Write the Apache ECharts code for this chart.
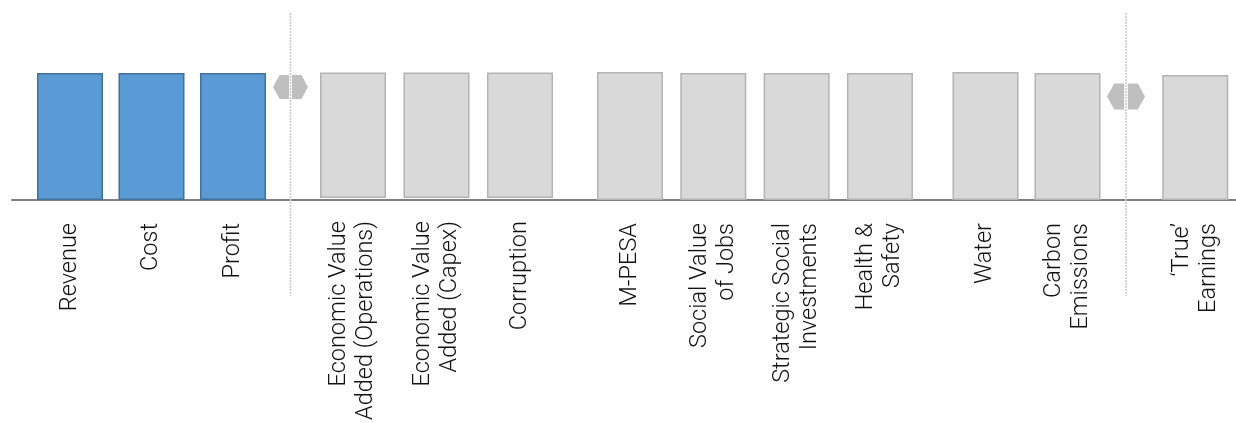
<!DOCTYPE html>
<html>
<head>
<meta charset="utf-8">
<script src="https://cdn.jsdelivr.net/npm/echarts@6/dist/echarts.min.js"></script>
<style>
  html, body { margin: 0; padding: 0; background: #ffffff; }
  #chart { width: 1236px; height: 423px; }
</style>
</head>
<body>
<div id="chart"></div>
<script>
// Financial statement items
const financialCategories = ['Revenue', 'Cost', 'Profit'];
const financialValues = [100, 100, 100];

// Economic impacts
const economicCategories = ['Economic Value\nAdded (Operations)', 'Economic Value\nAdded (Capex)', 'Corruption'];
const economicValues = [100, 100, 100];

// Social impacts
const socialCategories = ['M-PESA', 'Social Value\nof Jobs', 'Strategic Social\nInvestments', 'Health &\nSafety'];
const socialValues = [100.8, 100, 100, 100];

// Environmental impacts
const environmentalCategories = ['Water', 'Carbon\nEmissions'];
const environmentalValues = [100.8, 100];

// Resulting figure
const resultCategories = ['\u2018True\u2019\nEarnings'];
const resultValues = [98.4];

const BLUE = { fill: '#5b9bd5', border: '#41719c' };
const GREY = { fill: '#d9d9d9', border: '#b3b3b3' };

// Each group sits in its own grid: [left, width] in px
const groupDefs = [
  { cats: financialCategories, vals: financialValues, left: 29.25, width: 244.5, col: BLUE },
  { cats: economicCategories, vals: economicValues, left: 311.25, width: 250.5, col: GREY },
  { cats: socialCategories, vals: socialValues, left: 588.3, width: 333.3, col: GREY },
  { cats: environmentalCategories, vals: environmentalValues, left: 944.5, width: 164, col: GREY },
  { cats: resultCategories, vals: resultValues, left: 1154.5, width: 83, col: GREY }
];

const TOP = 41.25, BOTTOM = 223, YMAX = 125;
const labelStyle = {
  rotate: 90, interval: 0, margin: 23,
  fontFamily: 'Roboto', fontWeight: 300, fontSize: 23.5, lineHeight: 27,
  color: '#111111'
};

const grid = [], xAxis = [], yAxis = [], series = [];
groupDefs.forEach((g, i) => {
  grid.push({ left: g.left, width: g.width, top: TOP, bottom: BOTTOM });
  xAxis.push({
    type: 'category', gridIndex: i, data: g.cats,
    axisLine: { show: false }, axisTick: { show: false },
    axisLabel: labelStyle
  });
  yAxis.push({ type: 'value', gridIndex: i, min: 0, max: YMAX, show: false, splitLine: { show: false } });
  series.push({
    type: 'bar', xAxisIndex: i, yAxisIndex: i, data: g.vals,
    barWidth: 66, z: 3,
    itemStyle: { color: g.col.fill, borderColor: g.col.border, borderWidth: 1.5 },
    silent: true
  });
});

// Full-width baseline
const baseIdx = groupDefs.length;
grid.push({ left: 12, right: 0, top: TOP, bottom: BOTTOM });
xAxis.push({
  type: 'category', gridIndex: baseIdx, data: [''],
  axisLine: { show: true, lineStyle: { color: '#7f7f7f', width: 2 } },
  axisTick: { show: false }, axisLabel: { show: false }
});
yAxis.push({ type: 'value', gridIndex: baseIdx, min: 0, max: YMAX, show: false, splitLine: { show: false } });

// Divider with a split hexagon marker
function divider(x, cy, w, h, gap) {
  const hw = w / 2, hh = h / 2, q = w * 0.19;
  const hexColor = '#bfbfbf';
  return [
    { type: 'polygon', z: 10, shape: { points: [
        [x - gap, cy - hh], [x - hw + q, cy - hh], [x - hw, cy], [x - hw + q, cy + hh], [x - gap, cy + hh]
      ] }, style: { fill: hexColor } },
    { type: 'polygon', z: 10, shape: { points: [
        [x + gap, cy - hh], [x + hw - q, cy - hh], [x + hw, cy], [x + hw - q, cy + hh], [x + gap, cy + hh]
      ] }, style: { fill: hexColor } },
    { type: 'line', z: 11, shape: { x1: x, y1: 13, x2: x, y2: 296 },
      style: { stroke: '#c8c8c8', lineWidth: 1.5, lineDash: [2, 1] } }
  ];
}

const chart = echarts.init(document.getElementById('chart'), null, { renderer: 'canvas' });
chart.setOption({
  animation: false,
  backgroundColor: '#ffffff',
  grid, xAxis, yAxis, series,
  graphic: [].concat(divider(290.5, 87, 35, 24, 1.5), divider(1126, 96.5, 38, 26, 1.8))
});
</script>
</body>
</html>
